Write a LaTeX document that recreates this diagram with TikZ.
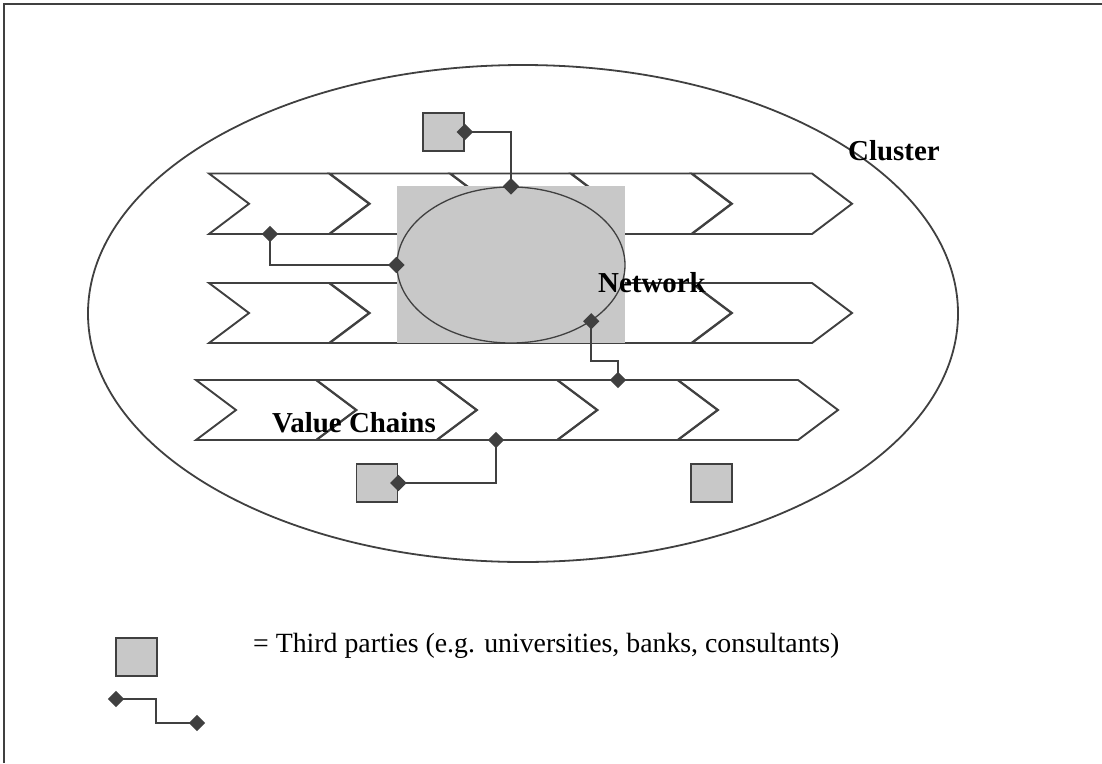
\documentclass[tikz,border=0pt]{standalone}
\usepackage{fontspec}
\setmainfont{Liberation Serif}
\usetikzlibrary{shapes.geometric}
\pgfdeclarelayer{bg}
\pgfdeclarelayer{mid}
\pgfsetlayers{bg,mid,main}
\definecolor{ln}{HTML}{404040}
\definecolor{gr}{HTML}{C8C8C8}
\begin{document}
\begin{tikzpicture}[x=1pt,y=-1pt, line join=miter,
  chev/.style={draw=ln, line width=1.9pt},
  party/.style={draw=ln, fill=gr, line width=1.8pt, minimum width=41pt, minimum height=38pt, inner sep=0pt},
  knot/.style={diamond, fill=ln, inner sep=0pt, minimum size=16.5pt},
  link/.style={draw=ln, line width=1.8pt},
  lbl/.style={font=\fontsize{28.9}{34}\selectfont\bfseries, inner sep=0pt, anchor=base west},
  legtext/.style={font=\fontsize{27.8}{34}\selectfont, inner sep=0pt, anchor=base west},
]
\useasboundingbox (0,0) rectangle (1102,763);
\begin{pgfonlayer}{bg}
  \draw[ln, line width=1.5pt] (4,763) -- (4,4) -- (1102,4);
  % cluster
  \node[ellipse, draw=ln, line width=1.8pt, minimum width=870pt, minimum height=497pt, inner sep=0pt] (cluster) at (523,313.5) {};
  % value chains
  \foreach \x in {209,329.75,450.5,571.25,692}{
    \draw[chev] (\x,173.5) -- ++(120,0) -- ++(40,30.25) -- ++(-40,30.25) -- ++(-120,0) -- ++(40,-30.25) -- cycle;
    \draw[chev] (\x,283) -- ++(120,0) -- ++(40,30) -- ++(-40,30) -- ++(-120,0) -- ++(40,-30) -- cycle;
  }
  \foreach \x in {196,316.5,437,557.5,678}{
    \draw[chev] (\x,380) -- ++(120,0) -- ++(40,30) -- ++(-40,30) -- ++(-120,0) -- ++(40,-30) -- cycle;
  }
  % network
  \fill[gr] (397,186) rectangle (625,343);
  \node[ellipse, draw=ln, line width=1.3pt, minimum width=228pt, minimum height=156pt, inner sep=0pt] (net) at (511,265) {};
  % third parties
  \node[party] (sqTop) at (443.5,132) {};
  \node[party] (sqB) at (377,483) {};
  \node[party] (sqR) at (711.5,483) {};
  \node[party] (sqLeg) at (136.5,657) {};
\end{pgfonlayer}
% knots
\node[knot] (kTop) at (sqTop.east) {};
\node[knot] (kNetN) at (net.north) {};
\node[knot] (kL1) at (270,234) {};
\node[knot] (kNetW) at (net.west) {};
\node[knot] (kNetSE) at (net.-35) {};
\node[knot] (kR3t) at (618,380) {};
\node[knot] (kR3b) at (496,440) {};
\node[knot] (kSqB) at (sqB.east) {};
\node[knot] (kLa) at (116,699) {};
\node[knot] (kLb) at (197,723) {};
\begin{pgfonlayer}{mid}
  \draw[link] (kTop.center) -| (kNetN.center);
  \draw[link] (kL1.center) |- (kNetW.center);
  \draw[link] (kNetSE.center) -- ++(0,40) -| (kR3t.center);
  \draw[link] (kR3b.center) |- (kSqB.center);
  \draw[link] (kLa.center) -- ++(40,0) |- (kLb.center);
\end{pgfonlayer}
% labels
\node[lbl] (tCluster) at (848,160) {Cluster};
\node[lbl] (tNetwork) at (598,292) {Network};
\node[lbl] (tValue) at (272,432) {Value Chains};
\node[legtext] (tLegend) at (253,652) {= Third parties (e.g. universities, banks, consultants)};
\end{tikzpicture}
\end{document}
